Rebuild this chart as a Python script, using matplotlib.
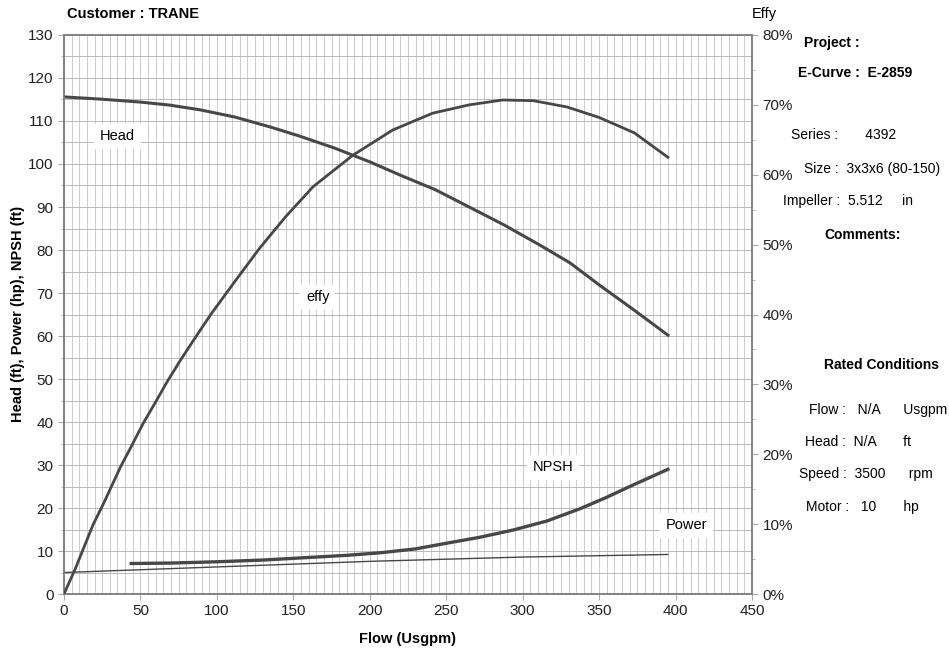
import numpy as np
import matplotlib.pyplot as plt
from matplotlib.ticker import MultipleLocator, FuncFormatter

plt.rcParams['font.family'] = ['Liberation Sans', 'DejaVu Sans']

# lectures sur le graphique
head_flow = [0, 23.5, 50, 69, 89, 112, 135, 154, 177, 200, 220, 243, 265, 288, 311, 331, 350, 373, 395]
head_ft = [115.6, 115.1, 114.4, 113.7, 112.6, 110.9, 108.6, 106.5, 103.7, 100.5, 97.4, 94.0, 90.0, 85.8,
           81.2, 77.0, 71.9, 66.0, 60.2]

effy_flow = [0, 7, 19, 26, 37, 44, 52, 60, 67, 76, 85, 96, 111, 128, 145, 163, 189, 215, 241, 265,
             287, 307, 329, 350, 373, 395]
effy_pct = [0, 3.4, 9.9, 13.0, 18.2, 21.1, 24.5, 27.5, 30.2, 33.4, 36.4, 40.0, 44.5, 49.5, 54.0, 58.3,
            62.8, 66.4, 68.8, 70.0, 70.7, 70.6, 69.7, 68.2, 66.0, 62.5]

npsh_flow = [44, 70, 100, 130, 160, 185, 207, 230, 250, 272, 294, 316, 338, 355, 370, 395]
npsh_ft = [7.1, 7.2, 7.5, 7.9, 8.5, 9.0, 9.6, 10.5, 11.8, 13.2, 14.9, 17.0, 19.9, 22.5, 25.0, 29.0]

power_flow = [0, 100, 200, 300, 395]
power_hp = [5.0, 6.3, 7.6, 8.6, 9.2]

info_left = ["Project :", "E-Curve :  E-2859", "Series :       4392", "Size :  3x3x6 (80-150)",
             "Impeller :  5.512     in", "Comments:"]
rated = ["Rated Conditions", "Flow :   N/A      Usgpm", "Head :  N/A       ft",
         "Speed :  3500      rpm", "Motor :   10       hp"]

line_col = '#474747'

fig = plt.figure(figsize=(9.49, 6.54), dpi=100)
ax = fig.add_axes([0.0674, 0.0917, 0.725, 0.8548])
ax2 = ax.twinx()

ax.set_xlim(0, 450)
ax.set_ylim(0, 130)
ax2.set_ylim(0, 80)

ax.xaxis.set_major_locator(MultipleLocator(50))
ax.xaxis.set_minor_locator(MultipleLocator(5))
ax.yaxis.set_major_locator(MultipleLocator(10))
ax.yaxis.set_minor_locator(MultipleLocator(5))
ax.grid(which='both', axis='y', color='#b8b8b8', lw=0.7)
ax.grid(which='both', axis='x', color='#cccccc', lw=0.7)
ax.set_axisbelow(True)

ax2.yaxis.set_major_locator(MultipleLocator(10))
ax2.yaxis.set_minor_locator(MultipleLocator(5))
ax2.yaxis.set_major_formatter(FuncFormatter(lambda v, p: f"{v:.0f}%"))

for a in (ax, ax2):
    for s in a.spines.values():
        s.set_color('#808080')
        s.set_linewidth(1.1)
    a.tick_params(which='both', colors='#aaaaaa', labelcolor='#222222', labelsize=11)
    a.tick_params(which='minor', length=2)
    a.tick_params(which='major', length=4)
ax.tick_params(axis='x', which='minor', length=0)

ax.plot(head_flow, head_ft, color=line_col, lw=2.2, zorder=3)
ax.plot(npsh_flow, npsh_ft, color=line_col, lw=2.4, zorder=3)
ax.plot(power_flow, power_hp, color=line_col, lw=1.0, zorder=3)
ax2.plot(effy_flow, effy_pct, color=line_col, lw=2.0, zorder=3)

box = dict(facecolor='white', edgecolor='none', pad=4)
ax.text(35, 106.5, "Head", fontsize=10.5, ha='center', va='center', bbox=box)
ax.text(166, 69, "effy", fontsize=10.5, ha='center', va='center', bbox=box)
ax.text(320, 29.5, "NPSH", fontsize=10.5, ha='center', va='center', bbox=box)
ax.text(407, 16, "Power", fontsize=10.5, ha='center', va='center', bbox=box)

ax.set_xlabel("Flow (Usgpm)", fontsize=10.5, fontweight='bold', labelpad=10)
fig.text(18 / 949, 1 - 314 / 654, "Head (ft), Power (hp), NPSH (ft)", fontsize=10.5,
         fontweight='bold', rotation=90, ha='center', va='center')

fig.text(133 / 949, 1 - 14 / 654, "Customer : TRANE", fontsize=10.5, fontweight='bold',
         ha='center', va='center')
fig.text(764 / 949, 1 - 14 / 654, "Effy", fontsize=10.5, ha='center', va='center')

# bloc d'infos à droite
info_pos = [(832, 43), (855, 73), (844, 135), (872, 169), (848, 201), (863, 235)]
for txt, (px, py) in zip(info_left, info_pos):
    bold = txt.startswith("Project") or txt.startswith("E-Curve") or txt.startswith("Comments")
    fig.text(px / 949, 1 - py / 654, txt, fontsize=10,
             fontweight='bold' if bold else 'normal', ha='center', va='center')

rated_pos = [(882, 365), (878, 410), (858, 442), (866, 474), (862, 507)]
for i, (txt, (px, py)) in enumerate(zip(rated, rated_pos)):
    fig.text(px / 949, 1 - py / 654, txt, fontsize=10,
             fontweight='bold' if i == 0 else 'normal', ha='center', va='center')

fig.savefig("out.png", dpi=100)
